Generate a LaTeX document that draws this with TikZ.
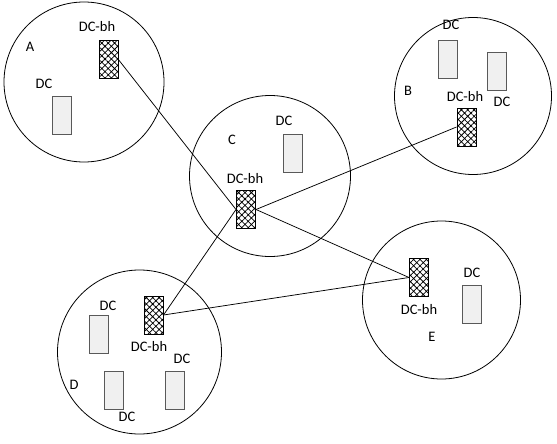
\documentclass[tikz,border=0pt]{standalone}
\usepackage{fontspec}
\setmainfont{Carlito}
\usetikzlibrary{patterns.meta}
\begin{document}
\begin{tikzpicture}[x=1pt,y=-1pt,
  zone/.style={draw=black,line width=0.8pt},
  dcbox/.style={draw=black!65,line width=0.9pt,fill=black!6,minimum width=19pt,minimum height=38pt,inner sep=0pt},
  bhbox/.style={draw=black,line width=1pt,preaction={fill=white},pattern={Hatch[angle=45,distance=4.5pt,line width=0.75pt]},minimum width=19pt,minimum height=38pt,inner sep=0pt},
  lbl/.style={font=\fontsize{14.5}{16}\selectfont,inner sep=0pt,text height=9pt,text depth=0pt},
  link/.style={draw=black,line width=0.75pt}]
\useasboundingbox (0,0) rectangle (557,444);
% zones
\draw[zone] (84,82) circle (80);
\draw[zone] (473,96) circle (78.5);
\draw[zone] (270,176) circle (80.5);
\draw[zone] (139.5,352) circle (82);
\draw[zone] (441.5,300) circle (79);
% boxes
\node[bhbox] (abh) at (108.5,59.5) {};
\node[dcbox] (adc) at (61.5,115.5) {};
\node[dcbox] (bdc1) at (447.5,59.5) {};
\node[dcbox] (bdc2) at (496.5,71) {};
\node[bhbox] (bbh) at (466.5,127) {};
\node[dcbox] (cdc) at (292.5,153.5) {};
\node[bhbox] (cbh) at (246,209.5) {};
\node[bhbox] (dbh) at (153.5,315) {};
\node[dcbox] (ddc1) at (98.5,334) {};
\node[dcbox] (ddc2) at (113.5,390) {};
\node[dcbox] (ddc3) at (174.5,390) {};
\node[bhbox] (ebh) at (419,277.5) {};
\node[dcbox] (edc) at (471.5,304) {};
% links
\draw[link] (abh.east) -- (cbh.west);
\draw[link] (cbh.east) -- (bbh.west);
\draw[link] (cbh.east) -- (ebh.west);
\draw[link] (dbh.east) -- (cbh.west);
\draw[link] (dbh.east) -- (ebh.west);
% labels
\node[lbl] (la1) at (97,27) {DC-bh};
\node[lbl] (la2) at (44,84) {DC};
\node[lbl] (la3) at (30,47) {A};
\node[lbl] (lb1) at (451,25) {DC};
\node[lbl] (lb2) at (502,102) {DC};
\node[lbl] (lb3) at (408,91) {B};
\node[lbl] (lb4) at (465,97) {DC-bh};
\node[lbl] (lc1) at (284,121) {DC};
\node[lbl] (lc2) at (232,140) {C};
\node[lbl] (lc3) at (245,179) {DC-bh};
\node[lbl] (ld1) at (149,347) {DC-bh};
\node[lbl] (ld2) at (108,306) {DC};
\node[lbl] (ld3) at (74,385) {D};
\node[lbl] (ld4) at (127,417) {DC};
\node[lbl] (ld5) at (182,359) {DC};
\node[lbl] (le1) at (419,310) {DC-bh};
\node[lbl] (le2) at (472,273) {DC};
\node[lbl] (le3) at (432,337) {E};
\end{tikzpicture}
\end{document}
